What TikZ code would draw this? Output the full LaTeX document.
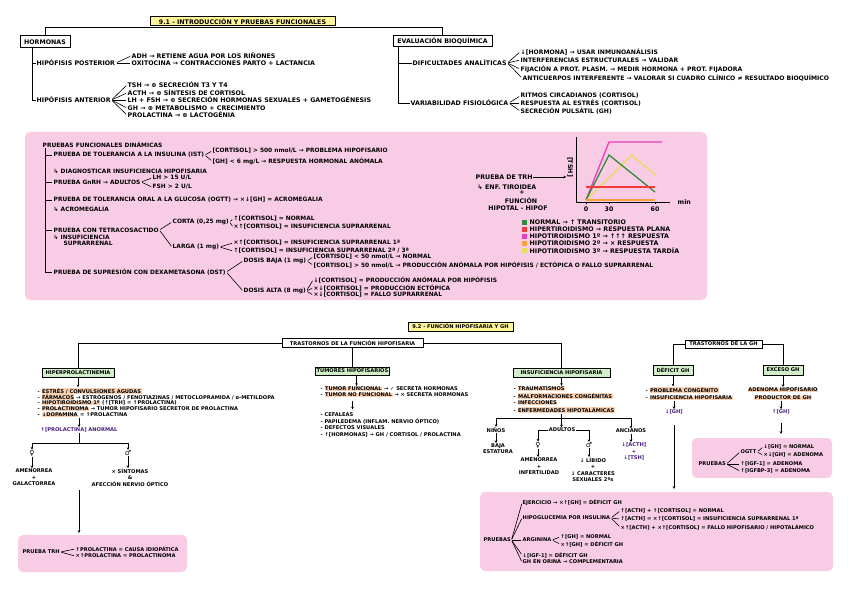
\documentclass[tikz,border=0pt]{standalone}
\usepackage{fontspec}
\setmainfont{DejaVu Sans}
\usetikzlibrary{arrows.meta}
\definecolor{pk}{HTML}{F8CCE4}
\definecolor{ylw}{HTML}{FFF599}
\definecolor{grn}{HTML}{D3EFC9}
\definecolor{peach}{HTML}{FAD2B4}
\definecolor{purp}{HTML}{4A2080}
\definecolor{cgreen}{HTML}{2E8B3A}
\definecolor{cred}{HTML}{F03C3C}
\definecolor{cmag}{HTML}{E83CB8}
\definecolor{corange}{HTML}{F7A041}
\definecolor{cyel}{HTML}{E5DE5A}
\newcommand{\hl}[1]{{\setlength{\fboxsep}{0.5pt}\colorbox{peach}{#1}}}
\newcommand\fA{\fontsize{6.3}{7}\selectfont\bfseries}
\newcommand\fE{\fontsize{6.1}{7}\selectfont\bfseries}
\newcommand\fB{\fontsize{5.9}{6.8}\selectfont\bfseries}
\newcommand\fC{\fontsize{5.15}{6.5}\selectfont\bfseries}
\newcommand\fS{\fontsize{7}{7}\selectfont\bfseries}
\tikzset{
 tx/.style={anchor=west, inner sep=0.5pt},
 tc/.style={inner sep=0.5pt, align=center},
 ln/.style={line width=0.7pt},
 fk/.style={line width=0.6pt, shorten <=1pt, shorten >=1pt},
 arr/.style={line width=0.7pt, -{Stealth[length=2.6pt,width=2.6pt]}},
 bx/.style={draw, line width=1pt, inner sep=1pt},
 pkbox/.style={fill=pk, rounded corners=5pt, inner sep=0pt},
 curve/.style={line width=1.3pt},
 lsq/.style={minimum size=5pt, inner sep=0pt},
 sym/.style={inner sep=0.3pt, font=\fS},
}
\begin{document}
\begin{tikzpicture}[x=1pt,y=-1pt]
\useasboundingbox (0,0) rectangle (848,599);
\fill[white] (0,0) rectangle (848,599);

% ================= SECTION 9.1 =================
\begin{scope}[nodes={font=\fA}]
\node[bx,fill=ylw,minimum width=185,minimum height=9] (title1) at (242.5,21.5) {9.1 - INTRODUCCIÓN Y PRUEBAS FUNCIONALES};
\node[bx,minimum width=50,minimum height=12] (horm) at (45,42) {HORMONAS};
\node[bx,minimum width=99,minimum height=11] (eval) at (442.5,41.5) {EVALUACIÓN BIOQUÍMICA};
\draw[ln] (horm.north) -- ++(0,-8) -| (eval.north);

\node[tx] (post) at (36,63) {HIPÓFISIS POSTERIOR};
\node[tx] (ant) at (36,100) {HIPÓFISIS ANTERIOR};
\draw[ln] ([xshift=-13pt]horm.south) |- (post.west);
\draw[ln] ([xshift=-13pt]horm.south) |- (ant.west);
\node[tx] (adh) at (131,56) {ADH → RETIENE AGUA POR LOS RIÑONES};
\node[tx] (oxi) at (131,63) {OXITOCINA → CONTRACCIONES PARTO + LACTANCIA};
\foreach \n in {adh,oxi} \draw[fk] (post.east) -- (\n.west);
\node[tx] (tsh) at (127,85) {TSH → ⊕ SECRECIÓN T3 Y T4};
\node[tx] (acth) at (127,93) {ACTH → ⊕ SÍNTESIS DE CORTISOL};
\node[tx] (lhfsh) at (127,100) {LH + FSH → ⊕ SECRECIÓN HORMONAS SEXUALES + GAMETOGÉNESIS};
\node[tx] (ghm) at (127,108) {GH → ⊕ METABOLISMO + CRECIMIENTO};
\node[tx] (prl) at (127,115) {PROLACTINA → ⊕ LACTOGÉNIA};
\foreach \n in {tsh,acth,lhfsh,ghm,prl} \draw[fk] (ant.east) -- (\n.west);

\node[tx] (dif) at (412,63) {DIFICULTADES ANALÍTICAS};
\node[tx] (var) at (410,103) {VARIABILIDAD FISIOLÓGICA};
\draw[ln] ([xshift=6pt]eval.south west) |- (dif.west);
\draw[ln] ([xshift=6pt]eval.south west) |- (var.west);
\end{scope}
\begin{scope}[nodes={font=\fE}]
\node[tx] (da1) at (520,52) {↓[HORMONA] → USAR INMUNOANÁLISIS};
\node[tx] (da2) at (520,60) {INTERFERENCIAS ESTRUCTURALES → VALIDAR};
\node[tx] (da3) at (520,69) {FIJACIÓN A PROT. PLASM. → MEDIR HORMONA + PROT. FIJADORA};
\node[tx] (da4) at (522,78) {ANTICUERPOS INTERFERENTE → VALORAR SI CUADRO CLÍNICO ≠ RESULTADO BIOQUÍMICO};
\foreach \n in {da1,da2,da3,da4} \draw[fk] (dif.east) -- (\n.west);
\node[tx] (vf1) at (520,96) {RITMOS CIRCADIANOS (CORTISOL)};
\node[tx] (vf2) at (520,103) {RESPUESTA AL ESTRÉS (CORTISOL)};
\node[tx] (vf3) at (520,111) {SECRECIÓN PULSÁTIL (GH)};
\foreach \n in {vf1,vf2,vf3} \draw[fk] (var.east) -- (\n.west);
\end{scope}

% ---- pink box 1
\node[pkbox,minimum width=682,minimum height=168] (pb1) at (366,216) {};
\begin{scope}[nodes={font=\fB}]
\node[tx] (pfd) at (42,145) {PRUEBAS FUNCIONALES DINÁMICAS};
\node[tx] (ist) at (53,155) {PRUEBA DE TOLERANCIA A LA INSULINA (IST)};
\node[tx] (istsub) at (53,171) {↳ DIAGNOSTICAR INSUFICIENCIA HIPOFISARIA};
\node[tx] (gnrh) at (53,182) {PRUEBA GnRH → ADULTOS};
\node[tx] (ogtt) at (53,200) {PRUEBA DE TOLERANCIA ORAL A LA GLUCOSA (OGTT) → ×↓[GH] = ACROMEGALIA};
\node[tx] (ogttsub) at (53,209) {↳ ACROMEGALIA};
\node[tx] (tetra) at (53,230) {PRUEBA CON TETRACOSACTIDO};
\node[tx,anchor=north west,align=left] (tetrasub) at (53,234) {↳ INSUFICIENCIA\\\hspace*{10pt}SUPRARRENAL};
\node[tx] (dst) at (53,272) {PRUEBA DE SUPRESIÓN CON DEXAMETASONA (DST)};
\foreach \n in {ist,gnrh,ogtt,tetra,dst} \draw[ln] ([xshift=3pt]pfd.south west) |- ([xshift=-1pt]\n.west);

\node[tx] (ist1) at (212,151) {[CORTISOL] > 500 nmol/L → PROBLEMA HIPOFISARIO};
\node[tx] (ist2) at (212,161) {[GH] < 6 mg/L → RESPUESTA HORMONAL ANÓMALA};
\foreach \n in {ist1,ist2} \draw[fk] (ist.east) -- (\n.west);
\node[tx] (lh) at (152,178) {LH > 15 U/L};
\node[tx] (fsh) at (152,187) {FSH > 2 U/L};
\foreach \n in {lh,fsh} \draw[fk] (gnrh.east) -- (\n.west);

\node[tx] (corta) at (172,222) {CORTA (0,25 mg)};
\node[tx] (larga) at (172,247) {LARGA (1 mg)};
\foreach \n in {corta,larga} \draw[fk] (tetra.east) -- (\n.west);
\node[tx] (co1) at (233,219) {↑[CORTISOL] = NORMAL};
\node[tx] (co2) at (233,227) {×↑[CORTISOL] = INSUFICIENCIA SUPRARRENAL};
\foreach \n in {co1,co2} \draw[fk] (corta.east) -- (\n.west);
\node[tx] (la1) at (233,243) {×↑[CORTISOL] = INSUFICIENCIA SUPRARRENAL 1ª};
\node[tx] (la2) at (233,251) {↑[CORTISOL] = INSUFICIENCIA SUPRARRENAL 2ª / 3ª};
\foreach \n in {la1,la2} \draw[fk] (larga.east) -- (\n.west);

\node[tx] (baja) at (243,261) {DOSIS BAJA (1 mg)};
\node[tx] (alta) at (243,291) {DOSIS ALTA (8 mg)};
\foreach \n in {baja,alta} \draw[fk] (dst.east) -- (\n.west);
\node[tx] (ba1) at (313,257) {[CORTISOL] < 50 nmol/L → NORMAL};
\node[tx] (ba2) at (313,265) {[CORTISOL] > 50 nmol/L → PRODUCCIÓN ANÓMALA POR HIPÓFISIS / ECTÓPICA O FALLO SUPRARRENAL};
\foreach \n in {ba1,ba2} \draw[fk] (baja.east) -- (\n.west);
\node[tx] (al1) at (313,280) {↓[CORTISOL] = PRODUCCIÓN ANÓMALA POR HIPÓFISIS};
\node[tx] (al2) at (313,288) {×↓[CORTISOL] = PRODUCCIÓN ECTÓPICA};
\node[tx] (al3) at (313,295) {×↓[CORTISOL] = FALLO SUPRARRENAL};
\foreach \n in {al1,al2,al3} \draw[fk] (alta.east) -- (\n.west);
\end{scope}

% ---- TRH graph
\begin{scope}[nodes={font=\fA}]
\node[tx] (trh) at (475,177) {PRUEBA DE TRH};
\coordinate (gin) at (566,177);
\draw[arr] (trh.east) -- (gin);
\node[tx] (enf) at (477,187) {↳ ENF. TIROIDEA};
\node[tc] (plus) at (522,193) {+};
\node[tc] (func) at (521,201) {FUNCIÓN};
\node[tc] (hh) at (518,208) {HIPOTAL - HIPOF};
\coordinate (org) at (576,202);
\draw[ln] (576,137) -- (org) -- (670,202);
\node[tx] (minl) at (677,202) {min};
\node[tc,rotate=-90] (tshax) at (570,167) {[TSH]};
\foreach \xx/\lab in {586/0,609/30,655/60} {\draw[ln] (\xx,202) -- (\xx,204); \node[tc] at (\xx,209) {\lab};}
\draw[curve,cmag] (586,200) -- (609,142) -- (662,142);
\draw[curve,cyel] (586,200) -- (632,155) -- (655,175);
\draw[curve,cgreen] (586,200) -- (609,155) -- (655,192);
\draw[curve,cred] (586,187) -- (655,187);
\draw[curve,corange] (586,200) -- (655,200);
\node[lsq,fill=cgreen] (lg1) at (524.5,222) {};
\node[lsq,fill=cred] (lg2) at (524.5,229) {};
\node[lsq,fill=cmag] (lg3) at (524.5,236) {};
\node[lsq,fill=corange] (lg4) at (524.5,243) {};
\node[lsq,fill=cyel] (lg5) at (524.5,250.5) {};
\node[tx] (lt1) at (529,222) {NORMAL → ↑ TRANSITORIO};
\node[tx] (lt2) at (529,229) {HIPERTIROIDISMO → RESPUESTA PLANA};
\node[tx] (lt3) at (529,236) {HIPOTIROIDISMO 1º → ↑↑↑ RESPUESTA};
\node[tx] (lt4) at (529,243) {HIPOTIROIDISMO 2º → × RESPUESTA};
\node[tx] (lt5) at (529,250.5) {HIPOTIROIDISMO 3º → RESPUESTA TARDÍA};
\end{scope}

% ================= SECTION 9.2 =================
\begin{scope}[nodes={font=\fC}]
\node[bx,fill=ylw,minimum width=105,minimum height=9] (title2) at (460.5,326.5) {9.2 - FUNCIÓN HIPOFISARIA Y GH};
\node[bx,minimum width=141,minimum height=9] (trast) at (352.5,343) {TRASTORNOS DE LA FUNCIÓN HIPOFISARIA};
\node[bx,fill=grn,minimum width=72,minimum height=9] (hiper) at (78,372.5) {HIPERPROLACTINEMIA};
\node[bx,fill=grn,minimum width=72,minimum height=8] (tum) at (352.5,371) {TUMORES HIPOFISARIOS};
\node[bx,fill=grn,minimum width=97,minimum height=9] (insuf) at (561.5,372.5) {INSUFICIENCIA HIPOFISARIA};
\draw[ln] (trast.west) -| (hiper.north);
\draw[ln] (trast.east) -| (insuf.north);
\draw[ln] (trast.south) -- (tum.north);

\node[bx,minimum width=77,minimum height=8] (tgh) at (723.5,344) {TRASTORNOS DE LA GH};
\node[bx,fill=grn,minimum width=40,minimum height=10] (def) at (673,370) {DÉFICIT GH};
\node[bx,fill=grn,minimum width=40,minimum height=10] (exc) at (783,370) {EXCESO GH};
\draw[ln] (tgh.west) -| (def.north);
\draw[ln] (tgh.east) -| (exc.north);

% hiperprolactinemia
\node[tx] (h1) at (37,391) {- \hl{ESTRÉS / CONVULSIONES AGUDAS}};
\node[tx] (h2) at (37,397) {- \hl{FÁRMACOS} → ESTRÓGENOS / FENOTIAZINAS / METOCLOPRAMIDA / α-METILDOPA};
\node[tx] (h3) at (37,403) {- \hl{HIPOTIROIDISMO 1º} (↑[TRH] = ↑PROLACTINA)};
\node[tx] (h4) at (37,409) {- \hl{PROLACTINOMA} → TUMOR HIPOFISARIO SECRETOR DE PROLACTINA};
\node[tx] (h5) at (37,415) {- \hl{↓DOPAMINA} = ↑PROLACTINA};
\draw[arr] (hiper.south) -- (hiper.south |- h1.north);
\node[tx,text=purp] (hp) at (40,430) {↑[PROLACTINA] ANORMAL};
\draw[arr] (h5.south -| hp.north) -- (hp.north);
\draw[ln] (hp.south) -- ++(0,10) coordinate (hpb);
\node[sym] (fem) at (32,453) {♀};
\node[sym] (male) at (128,453) {♂};
\draw[arr] (hpb) -| (fem.north);
\draw[arr] (hpb) -| (male.north);
\node[tc,anchor=north] (amen) at (34,468) {AMENORREA\\+\\GALACTORREA};
\node[tc,anchor=north] (sint) at (130,468) {× SÍNTOMAS\\\&\\AFECCIÓN NERVIO ÓPTICO};
\draw[arr] (fem.south) -- (fem.south |- amen.north);
\draw[arr] (male.south) -- (male.south |- sint.north);
\node[pkbox,minimum width=169,minimum height=37] (pb4) at (102.5,553.5) {};
\coordinate (harr) at (79,490);
\draw[arr] (harr) -- ([yshift=2pt]harr |- pb4.north);
\node[tx] (ptrh) at (22,552) {PRUEBA TRH};
\node[tx] (pt1) at (75,549) {↑PROLACTINA = CAUSA IDIOPÁTICA};
\node[tx] (pt2) at (75,556) {×↑PROLACTINA = PROLACTINOMA};
\foreach \n in {pt1,pt2} \draw[fk] (ptrh.east) -- (\n.west);

% tumores
\node[tx] (tm1) at (320,389) {- \hl{TUMOR FUNCIONAL} → ✓ SECRETA HORMONAS};
\node[tx] (tm2) at (320,395) {- \hl{TUMOR NO FUNCIONAL} → × SECRETA HORMONAS};
\node[tx] (tm3) at (320,415) {- CEFALEAS};
\node[tx] (tm4) at (320,421.5) {- PAPILEDEMA (INFLAM. NERVIO ÓPTICO)};
\node[tx] (tm5) at (320,428) {- DEFECTOS VISUALES};
\node[tx] (tm6) at (320,434.5) {- ↑[HORMONAS] → GH / CORTISOL / PROLACTINA};
\draw[arr] ([xshift=4pt]tum.south) -- ([xshift=4pt]tum.south |- tm1.north);
\draw[arr] ([yshift=-3pt]tm2.south -| tum.south) -- ([yshift=3pt]tm3.north -| tum.south);

% insuficiencia
\node[tx] (in1) at (513,389) {- \hl{TRAUMATISMOS}};
\node[tx] (in2) at (513,396) {- \hl{MALFORMACIONES CONGÉNITAS}};
\node[tx] (in3) at (513,403) {- \hl{INFECCIONES}};
\node[tx] (in4) at (513,410) {- \hl{ENFERMEDADES HIPOTALÁMICAS}};
\draw[arr] (insuf.south) -- (insuf.south |- in1.north);
\draw[ln] (in4.south -| insuf.south) -- ++(0,5) coordinate (inb);
\node[tc] (ninos) at (496,430) {NIÑOS};
\node[tc] (adul) at (562,430) {ADULTOS};
\node[tc] (anc) at (631,431) {ANCIANOS};
\draw[arr] (inb) -| (ninos.north);
\draw[arr] (inb) -| (anc.north);
\draw[arr] (inb) -- (inb |- adul.north);
\node[tc,anchor=north] (baja2) at (498,443) {BAJA\\ESTATURA};
\draw[arr] (ninos.south) -- (ninos.south |- baja2.north);
\node[sym] (fem2) at (538,445) {♀};
\node[sym] (male2) at (589,445) {♂};
\draw[arr] (adul.west) -| (fem2.north);
\draw[arr] (adul.east) -| (male2.north);
\node[tc,anchor=north] (amen2) at (539,457) {AMENORREA\\+\\INFERTILIDAD};
\node[tc,anchor=north] (lib) at (593,457) {↓ LÍBIDO\\+\\↓ CARACTERES\\SEXUALES 2ºs};
\draw[arr] (fem2.south) -- (fem2.south |- amen2.north);
\draw[arr] (male2.south) -- (male2.south |- lib.north);
\node[tc,anchor=north,text=purp] (ancr) at (634,442) {↓[ACTH]\\+\\↓[TSH]};
\draw[arr] (anc.south) -- (anc.south |- ancr.north);

% deficit GH
\node[tx] (df1) at (645,390) {- \hl{PROBLEMA CONGÉNITO}};
\node[tx] (df2) at (645,398) {- \hl{INSUFICIENCIA HIPOFISARIA}};
\draw[arr] (def.south) -- (def.south |- df1.north);
\node[tc,text=purp] (dgh) at (674,412) {↓[GH]};
\draw[arr] (df2.south -| dgh.north) -- (dgh.north);
% exceso GH
\node[tc] (ex1) at (783,390) {\hl{ADENOMA HIPOFISARIO}};
\node[tc] (ex2) at (783,398) {\hl{PRODUCTOR DE GH}};
\draw[arr] (exc.south) -- (exc.south |- ex1.north);
\node[tc,text=purp] (egh) at (781,412) {↑[GH]};
\draw[arr] (ex2.south -| egh.north) -- (egh.north);

% pink box 2
\node[pkbox,minimum width=140,minimum height=40] (pb2) at (762,458) {};
\draw[arr] ([yshift=-8pt]egh.south) -- ([yshift=4pt]egh.south |- pb2.north);
\node[tx] (pr2) at (698,464) {PRUEBAS};
\node[tx] (og) at (740,452) {OGTT};
\node[tx] (ig1) at (740,464) {↑[IGF-1] = ADENOMA};
\node[tx] (ig2) at (740,471) {↑[IGFBP-3] = ADENOMA};
\foreach \n in {og,ig1,ig2} \draw[fk] (pr2.east) -- (\n.west);
\node[tx] (og1) at (763,447) {↓[GH] = NORMAL};
\node[tx] (og2) at (763,455) {×↓[GH] = ADENOMA};
\foreach \n in {og1,og2} \draw[fk] (og.east) -- (\n.west);

% pink box 3
\node[pkbox,minimum width=353,minimum height=79] (pb3) at (656.5,531.5) {};
\draw[arr] ([yshift=-10pt]dgh.south) -- ([yshift=3pt]dgh.south |- pb3.north);
\node[tx] (pr3) at (483,540) {PRUEBAS};
\node[tx] (p1) at (522,503) {EJERCICIO → ×↑[GH] = DÉFICIT GH};
\node[tx] (p2) at (522,518) {HIPOGLUCEMIA POR INSULINA};
\node[tx] (p3) at (522,540) {ARGININA};
\node[tx] (p4) at (522,555) {↓[IGF-1] = DÉFICIT GH};
\node[tx] (p5) at (522,562) {GH EN ORINA → COMPLEMENTARIA};
\foreach \n in {p1,p2,p3,p4,p5} \draw[fk] (pr3.east) -- (\n.west);
\node[tx] (q1) at (620,511) {↑[ACTH] + ↑[CORTISOL] = NORMAL};
\node[tx] (q2) at (620,519) {↑[ACTH] = ×↑[CORTISOL] = INSUFICIENCIA SUPRARRENAL 1ª};
\node[tx] (q3) at (620,527) {×↑[ACTH] + ×↑[CORTISOL] = FALLO HIPOFISARIO / HIPOTALÁMICO};
\foreach \n in {q1,q2,q3} \draw[fk] (p2.east) -- (\n.west);
\node[tx] (r1) at (560,537) {↑[GH] = NORMAL};
\node[tx] (r2) at (560,544) {×↑[GH] = DÉFICIT GH};
\foreach \n in {r1,r2} \draw[fk] (p3.east) -- (\n.west);
\end{scope}
\end{tikzpicture}
\end{document}
